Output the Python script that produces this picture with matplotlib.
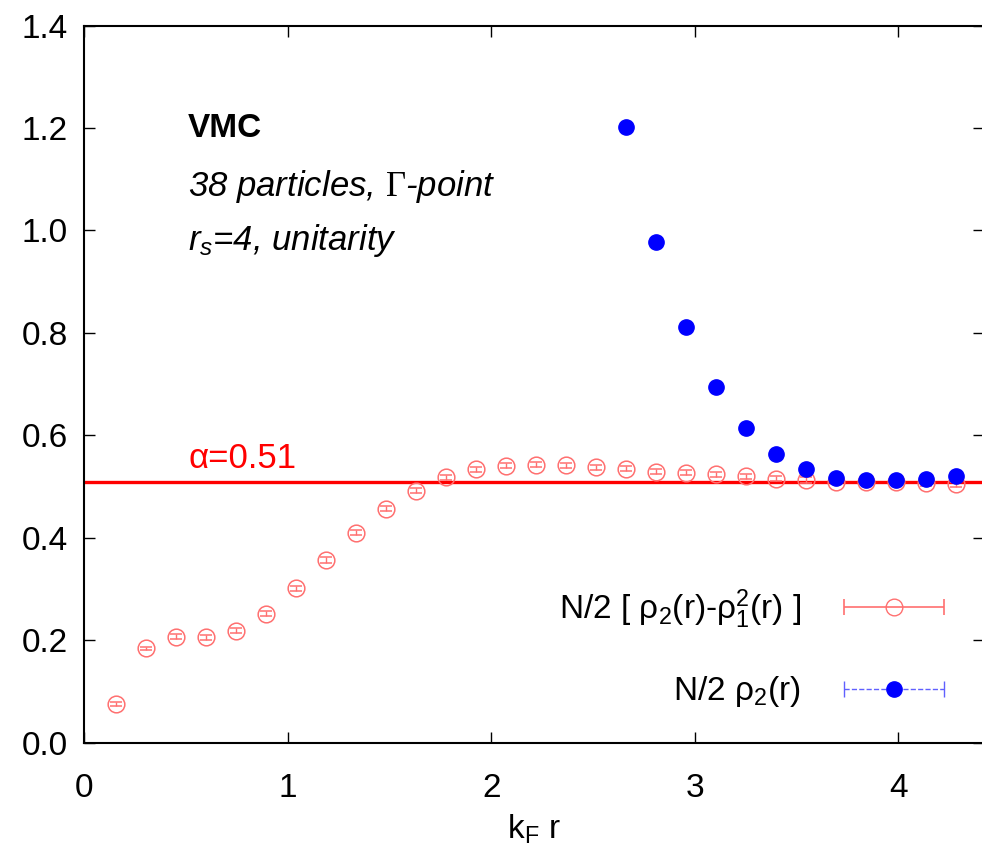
import numpy as np
import matplotlib.pyplot as plt
from matplotlib.legend_handler import HandlerErrorbar

# red: N/2 [rho2 - rho1^2], 29 points
kr = [0.153, 0.300, 0.448, 0.595, 0.743, 0.890, 1.038, 1.185, 1.333, 1.480,
      1.628, 1.775, 1.923, 2.070, 2.218, 2.365, 2.513, 2.660, 2.808, 2.955,
      3.103, 3.250, 3.398, 3.545, 3.693, 3.840, 3.988, 4.135, 4.283]
g_conn = [0.076, 0.185, 0.207, 0.206, 0.219, 0.252, 0.302, 0.357, 0.410, 0.457,
          0.492, 0.518, 0.534, 0.541, 0.543, 0.542, 0.538, 0.535, 0.529, 0.527,
          0.524, 0.520, 0.516, 0.513, 0.510, 0.510, 0.510, 0.507, 0.505]
g_conn_err = [0.004, 0.003, 0.005, 0.005, 0.005, 0.005, 0.005, 0.005, 0.005, 0.005,
              0.005, 0.005, 0.005, 0.005, 0.005, 0.005, 0.005, 0.005, 0.005, 0.005,
              0.005, 0.005, 0.005, 0.005, 0.005, 0.005, 0.005, 0.005, 0.005]

# blue: N/2 rho2, 12 points
kr_b = [2.660, 2.808, 2.955, 3.103, 3.250, 3.398, 3.545, 3.693, 3.840, 3.988, 4.135, 4.283]
g_full = [1.202, 0.977, 0.812, 0.695, 0.614, 0.563, 0.534, 0.517, 0.513, 0.513, 0.516, 0.521]

alpha = 0.51

plt.rcParams['font.family'] = ['Liberation Sans', 'DejaVu Sans']
plt.rcParams['mathtext.fontset'] = 'custom'
plt.rcParams['mathtext.rm'] = 'Liberation Serif'
plt.rcParams['mathtext.sf'] = 'Liberation Sans'
plt.rcParams['mathtext.it'] = 'Liberation Sans:italic'

red_l = '#ff7070'
fs = 24

fig = plt.figure(figsize=(9.82, 8.51), dpi=100)
ax = fig.add_axes([0.086, 0.127, 0.916, 0.843])

ax.axhline(alpha, color='#ff0000', lw=2.4, zorder=1)
ax.text(0.51, alpha + 0.012, 'α=0.51', color='#ff0000', fontsize=25,
        ha='left', va='bottom')

ax.errorbar(kr, g_conn, yerr=g_conn_err, fmt='o', mfc='none', mec=red_l,
            ms=12, mew=1.1, ecolor=red_l, elinewidth=1, capsize=4, zorder=2)
ax.plot(kr_b, g_full, 'o', color='#0000ff', ms=11, zorder=3)

# legend samples, gnuplot style: text left, sample right (NaN -> not drawn in axes)
h1 = ax.errorbar([np.nan], [np.nan], xerr=[0.1], fmt='o', mfc='none', mec=red_l,
                 ms=12, ecolor=red_l, elinewidth=1.2, capsize=6, capthick=1.2)
h2 = ax.errorbar([np.nan], [np.nan], xerr=[0.1], fmt='o', color='#0000ff', ms=11,
                 ecolor='#6060ff', elinewidth=1, capsize=6, capthick=1)
h2[2][0].set_linestyle('--')
leg = ax.legend([h1, h2],
                [r'N/2 [ ρ$_\mathsf{2}$(r)-ρ$_\mathsf{1}^\mathsf{2}$(r) ]',
                 r'N/2 ρ$_\mathsf{2}$(r)'],
                handler_map={type(h1): HandlerErrorbar(xerr_size=1.5)},
                loc='lower right', bbox_to_anchor=(0.989, 0.005), frameon=False,
                markerfirst=False, fontsize=fs, handlelength=3.0,
                labelspacing=1.3, handletextpad=1.3)
for t in leg.get_texts():
    t.set_ha('right')

ax.text(0.51, 1.20, 'VMC', fontsize=fs, fontweight='bold', va='center')
ax.text(0.51, 1.085, r'38 particles, $\mathrm{\Gamma}$-point', fontsize=25,
        style='italic', va='center')
ax.text(0.51, 0.98, r'$r_\mathit{s}$=4, unitarity', fontsize=25, style='italic',
        va='center')

ax.set_xlim(0, 4.42)
ax.set_ylim(0, 1.4)
ax.set_xticks([0, 1, 2, 3, 4])
ax.set_yticks(np.arange(0, 1.41, 0.2))
ax.set_yticklabels(['%.1f' % v for v in np.arange(0, 1.41, 0.2)])
ax.tick_params(direction='in', top=True, right=True, length=8, width=1,
               labelsize=fs, pad=12)
ax.tick_params(axis='x', pad=22)
ax.set_xlabel(r'k$_\mathsf{F}$ r', fontsize=fs, labelpad=6)
for s in ax.spines.values():
    s.set_linewidth(1.5)

fig.savefig('out.png', dpi=100)
